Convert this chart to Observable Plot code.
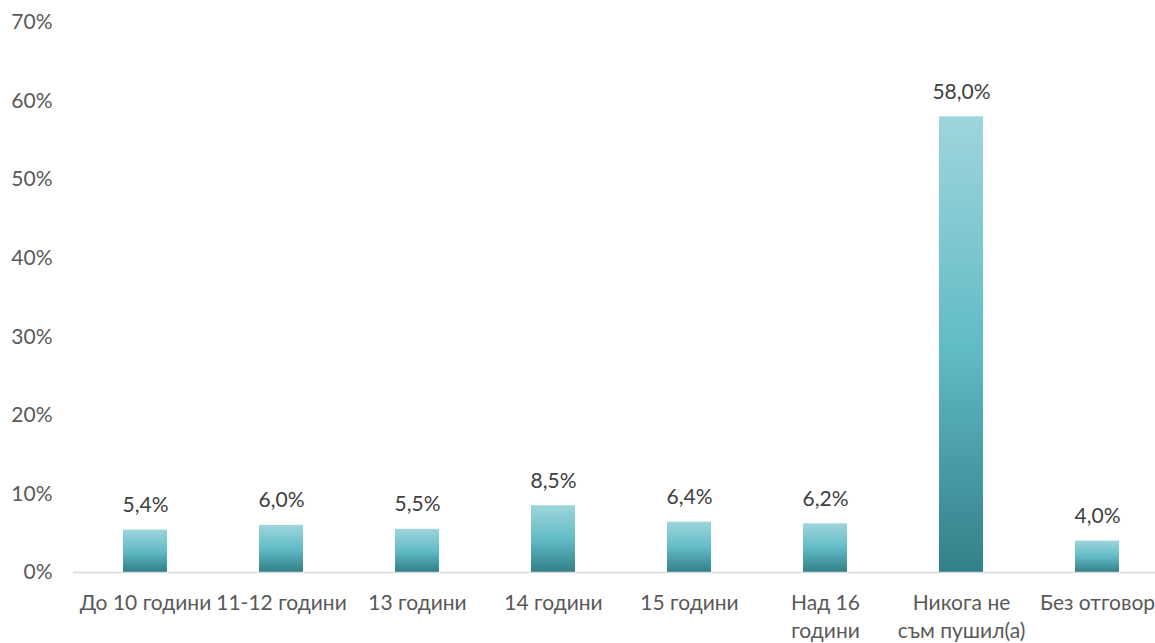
<!DOCTYPE html>
<html>
<head>
<meta charset="utf-8">
<script src="https://cdn.jsdelivr.net/npm/d3@7"></script>
<script src="https://cdn.jsdelivr.net/npm/@observablehq/plot@0.6"></script>
<style>
  html, body { margin: 0; padding: 0; background: #fff; }
  #chart { width: 1155px; height: 643px; overflow: hidden; }
</style>
</head>
<body>
<div id="chart"></div>
<script>
const categories = ["До 10 години", "11-12 години", "13 години", "14 години", "15 години", "Над 16\nгодини", "Никога не\nсъм пушил(а)", "Без отговор"];
const values = [5.4, 6.0, 5.5, 8.5, 6.4, 6.2, 58.0, 4.0];
const yTicks = [0, 10, 20, 30, 40, 50, 60, 70];

const data = categories.map((c, i) => ({ category: c, value: values[i] }));
const fmt = v => v.toFixed(1).replace(".", ",") + "%";

const gradientDefs = () => {
  const ns = "http://www.w3.org/2000/svg";
  const defs = document.createElementNS(ns, "defs");
  const g = document.createElementNS(ns, "linearGradient");
  g.setAttribute("id", "barGrad");
  g.setAttribute("x1", "0"); g.setAttribute("y1", "0");
  g.setAttribute("x2", "0"); g.setAttribute("y2", "1");
  [["0%", "#9fd5dc"], ["50%", "#62bcc6"], ["100%", "#327f89"]].forEach(([o, c]) => {
    const s = document.createElementNS(ns, "stop");
    s.setAttribute("offset", o); s.setAttribute("stop-color", c);
    g.appendChild(s);
  });
  defs.appendChild(g);
  return defs;
};

const chart = Plot.plot({
  width: 1155,
  height: 643,
  marginLeft: 73,
  marginRight: 0,
  marginTop: 22,
  marginBottom: 71,
  style: { fontFamily: "Lato, 'Open Sans', sans-serif", fontSize: "21px", background: "#fff" },
  x: { domain: categories, range: [73.6, 1167], paddingInner: 0.68, paddingOuter: 0.34, label: null },
  y: { domain: [0, 70], label: null },
  marks: [
    gradientDefs,
    Plot.axisY({ ticks: yTicks, tickSize: 0, tickPadding: 21, tickFormat: d => d + "%", fill: "#595959", fontSize: 21, label: null }),
    Plot.axisX({ tickSize: 0, tickPadding: 18, fill: "#595959", fontSize: 21, lineHeight: 1.33, label: null }),
    Plot.barY(data, { x: "category", y: "value", fill: "url(#barGrad)" }),
    Plot.ruleY([0], { stroke: "#d9d9d9", strokeWidth: 1.5 }),
    Plot.text(data, { x: "category", y: "value", text: d => fmt(d.value), dy: -18, lineAnchor: "bottom", fill: "#404040", fontSize: 21 })
  ]
});
document.getElementById("chart").appendChild(chart);
</script>
</body>
</html>
